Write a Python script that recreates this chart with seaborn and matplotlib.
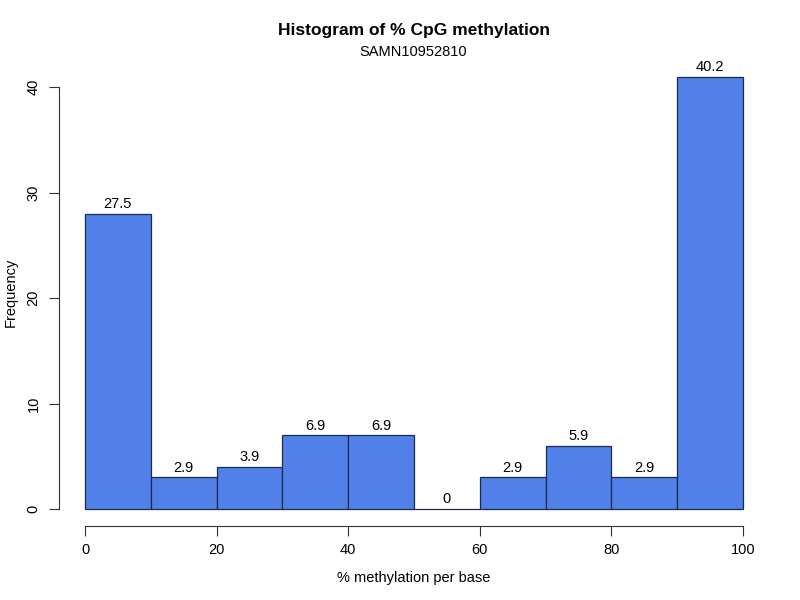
import numpy as np
import pandas as pd
import seaborn as sns
import matplotlib.pyplot as plt

# histogram bins (% methylation per base) and counts per bin
bin_edges = [0, 10, 20, 30, 40, 50, 60, 70, 80, 90, 100]
bin_mids = [5, 15, 25, 35, 45, 55, 65, 75, 85, 95]
counts = [28, 3, 4, 7, 7, 0, 3, 6, 3, 41]

sns.set_style("ticks")
plt.rcParams['font.family'] = ['Liberation Sans', 'DejaVu Sans']
plt.rcParams['text.color'] = 'black'
plt.rcParams['xtick.labelcolor'] = 'black'
plt.rcParams['ytick.labelcolor'] = 'black'

df = pd.DataFrame({"meth": bin_mids, "n": counts})
pct = [round(100 * c / sum(counts), 1) for c in counts]

fig = plt.figure(figsize=(8, 6), dpi=100)
ax = fig.add_axes([0.0734, 0.1228, 0.8882, 0.7785])

sns.histplot(data=df, x="meth", weights="n", bins=bin_edges, ax=ax,
             color="#5080E8", alpha=1, edgecolor="#1a2a55", linewidth=0.9)

for m, c, p in zip(bin_mids, counts, pct):
    lab = "0" if p == 0 else f"{p:.1f}"
    ax.text(m, c + 0.25, lab, ha="center", va="bottom", fontsize=10.5)

ax.set_xlim(-4, 104)
ax.set_ylim(-1.64, 42.64)
ax.set_xticks([0, 20, 40, 60, 80, 100])
ax.set_yticks([0, 10, 20, 30, 40])
ax.tick_params(axis="both", labelsize=10.5, length=7, width=0.8, color="#333333")
for lbl in ax.get_yticklabels():
    lbl.set_rotation(90)
    lbl.set_va("center")
ax.tick_params(axis="x", pad=5)
ax.tick_params(axis="y", pad=6)

sns.despine(ax=ax, trim=True)
for s in ["left", "bottom"]:
    ax.spines[s].set_linewidth(0.8)
    ax.spines[s].set_color("#333333")

ax.set_xlabel("")
ax.set_ylabel("")
fig.text(0.517, 1 - 578 / 600, "% methylation per base", ha="center",
         va="center", fontsize=10.5)
fig.text(11 / 800, 1 - 292 / 600, "Frequency", ha="center", va="center",
         rotation=90, fontsize=10.5)

fig.text(0.517, 0.949, "Histogram of % CpG methylation", ha="center",
         va="center", fontsize=12.5, fontweight="bold")
fig.text(0.517, 0.913, "SAMN10952810", ha="center", va="center", fontsize=10.5)

fig.savefig("out.png", dpi=100)
